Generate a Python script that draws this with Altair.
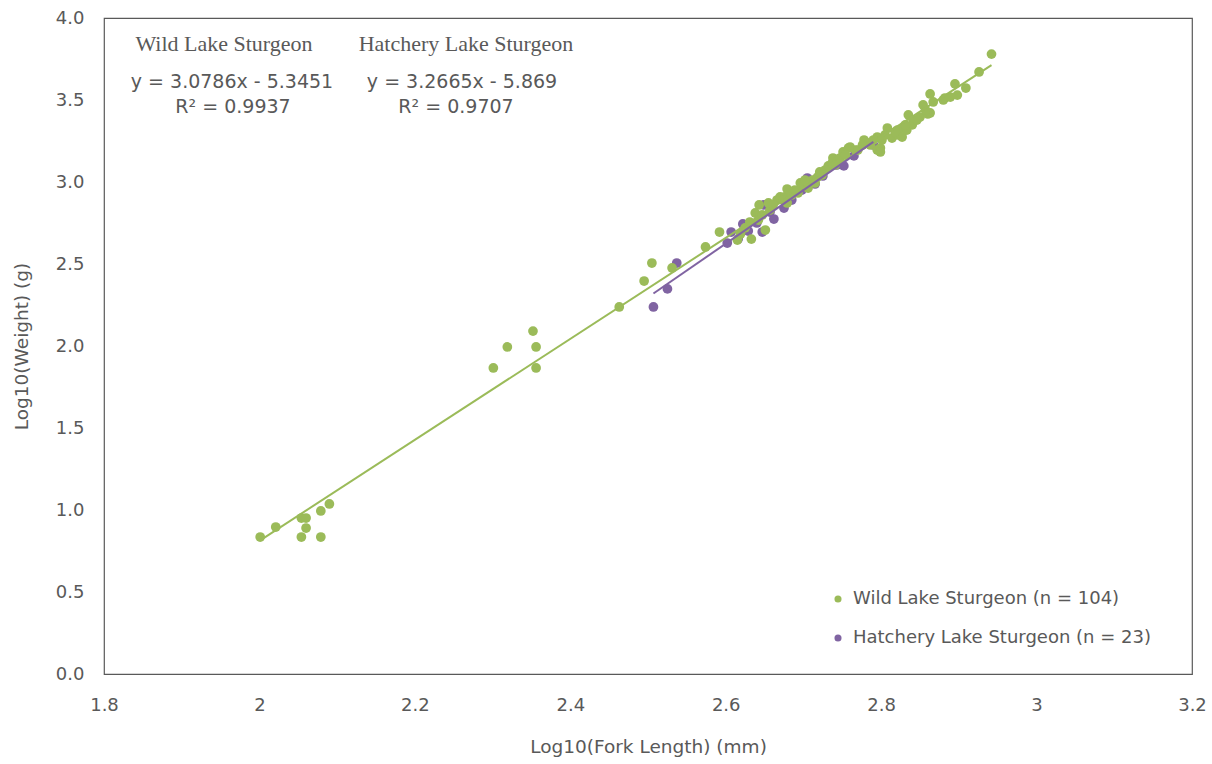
import altair as alt
import pandas as pd
import numpy as np

WILD = "Wild Lake Sturgeon (n = 104)"
HATCH = "Hatchery Lake Sturgeon (n = 23)"

wild_x = [
    2.001, 2.021, 2.054, 2.060, 2.060, 2.054, 2.079, 2.090, 2.079,
    2.301, 2.319, 2.352, 2.356, 2.356, 2.463, 2.495, 2.505, 2.531,
    2.574, 2.592, 2.615, 2.625, 2.631, 2.633, 2.638, 2.642, 2.643, 2.651,
    2.655, 2.657, 2.666, 2.670, 2.676, 2.679, 2.679, 2.685, 2.693, 2.696,
    2.698, 2.706, 2.711, 2.712, 2.718, 2.721, 2.728, 2.732, 2.737, 2.738,
    2.745, 2.751, 2.758, 2.760, 2.767, 2.782, 2.778, 2.786, 2.795, 2.795,
    2.799, 2.799, 2.801, 2.808, 2.814, 2.821, 2.822, 2.827, 2.828, 2.833,
    2.835, 2.840, 2.841, 2.850, 2.854, 2.860, 2.863, 2.863, 2.867, 2.880,
    2.882, 2.889, 2.895, 2.898, 2.909, 2.926, 2.942,
    2.619, 2.647, 2.661, 2.674, 2.689, 2.702, 2.715, 2.724, 2.741, 2.747,
    2.754, 2.770, 2.776, 2.790, 2.805, 2.818, 2.831, 2.846, 2.857,
]
wild_y = [
    0.835, 0.896, 0.951, 0.951, 0.890, 0.835, 0.994, 1.037, 0.835,
    1.866, 1.994, 2.091, 1.994, 1.866, 2.238, 2.396, 2.506, 2.476,
    2.604, 2.695, 2.646, 2.720, 2.756, 2.652, 2.811, 2.768, 2.860, 2.707,
    2.872, 2.829, 2.890, 2.909, 2.909, 2.957, 2.872, 2.921, 2.933, 2.994,
    2.982, 2.963, 3.000, 3.012, 3.030, 3.061, 3.073, 3.098, 3.116, 3.146,
    3.134, 3.183, 3.207, 3.213, 3.195, 3.238, 3.256, 3.226, 3.274, 3.195,
    3.207, 3.183, 3.256, 3.329, 3.268, 3.317, 3.287, 3.274, 3.329, 3.317,
    3.409, 3.348, 3.378, 3.396, 3.470, 3.415, 3.537, 3.421, 3.488, 3.500,
    3.512, 3.518, 3.598, 3.530, 3.573, 3.671, 3.780,
    2.683, 2.799, 2.860, 2.890, 2.951, 3.012, 2.994, 3.043, 3.104, 3.146,
    3.165, 3.195, 3.226, 3.256, 3.287, 3.305, 3.348, 3.378, 3.439,
]

hatch_x = [
    2.507, 2.525, 2.537, 2.602, 2.607, 2.616, 2.622, 2.640, 2.647, 2.649,
    2.662, 2.675, 2.698, 2.705, 2.725, 2.743, 2.752, 2.765, 2.790,
    2.629, 2.657, 2.685, 2.715,
]
hatch_y = [
    2.238, 2.348, 2.506, 2.628, 2.695, 2.652, 2.744, 2.750, 2.695, 2.860,
    2.774, 2.841, 2.951, 3.024, 3.037, 3.104, 3.098, 3.159, 3.226,
    2.701, 2.817, 2.890, 2.988,
]

# Trendline coefficients as printed on the chart
wild_slope, wild_int = 3.0786, -5.3451
hatch_slope, hatch_int = 3.2665, -5.869

header_texts = ["Wild Lake Sturgeon", "Hatchery Lake Sturgeon"]
eq_texts = ["y = 3.0786x - 5.3451", "y = 3.2665x - 5.869"]
r2_texts = ["R² = 0.9937", "R² = 0.9707"]

GREEN = "#9BBB59"
PURPLE = "#8064A2"
GRAY = "#595959"

pts = pd.concat([
    pd.DataFrame({"x": wild_x, "y": wild_y, "group": WILD}),
    pd.DataFrame({"x": hatch_x, "y": hatch_y, "group": HATCH}),
], ignore_index=True)

wx = np.array([min(wild_x), max(wild_x)])
hx = np.array([min(hatch_x), max(hatch_x)])
wild_line = pd.DataFrame({"x": wx, "y": wild_slope * wx + wild_int})
hatch_line = pd.DataFrame({"x": hx, "y": hatch_slope * hx + hatch_int})

xscale = alt.Scale(domain=[1.8, 3.2], nice=False, zero=False)
yscale = alt.Scale(domain=[0, 4], nice=False, zero=False)

xaxis = alt.Axis(
    title="Log10(Fork Length) (mm)",
    values=[1.8, 2.0, 2.2, 2.4, 2.6, 2.8, 3.0, 3.2],
    labelExpr="format(datum.value, '~g')",
    labelPadding=22, titlePadding=23, labelFlush=False, labelOverlap=False,
)
yaxis = alt.Axis(
    title="Log10(Weight) (g)",
    values=[0, 0.5, 1.0, 1.5, 2.0, 2.5, 3.0, 3.5, 4.0],
    format=".1f",
    labelPadding=20, titlePadding=24, labelFlush=False, labelOverlap=False,
)

points = alt.Chart(pts).mark_circle(size=95, opacity=1).encode(
    x=alt.X("x:Q", scale=xscale, axis=xaxis),
    y=alt.Y("y:Q", scale=yscale, axis=yaxis),
    color=alt.Color(
        "group:N",
        scale=alt.Scale(domain=[WILD, HATCH], range=[GREEN, PURPLE]),
        legend=alt.Legend(
            title=None, orient="none", legendX=725, legendY=572,
            symbolType="circle", symbolSize=50, labelFontSize=18,
            labelFont="DejaVu Sans", labelColor=GRAY, rowPadding=21,
            labelOffset=6, padding=0, labelLimit=400,
        ),
    ),
    order=alt.Order("order:Q"),
).transform_calculate(order="datum.group == '%s' ? 1 : 0" % WILD)

l1 = alt.Chart(wild_line).mark_line(color=GREEN, strokeWidth=2).encode(
    x=alt.X("x:Q", scale=xscale), y=alt.Y("y:Q", scale=yscale))
l2 = alt.Chart(hatch_line).mark_line(color=PURPLE, strokeWidth=2).encode(
    x=alt.X("x:Q", scale=xscale), y=alt.Y("y:Q", scale=yscale))

hdr = pd.DataFrame({"t": header_texts, "px": [120, 362]})
eqs = pd.DataFrame({"t": eq_texts, "px": [128, 358]})
r2s = pd.DataFrame({"t": r2_texts, "px": [129, 352]})

t_hdr = alt.Chart(hdr).mark_text(font="Liberation Serif", fontSize=22, color=GRAY,
                                 align="center", baseline="middle").encode(
    x=alt.X("px:Q", scale=None), y=alt.value(26), text="t:N")
t_eq = alt.Chart(eqs).mark_text(font="DejaVu Sans", fontSize=19, color=GRAY,
                                align="center", baseline="middle").encode(
    x=alt.X("px:Q", scale=None), y=alt.value(64), text="t:N")
t_r2 = alt.Chart(r2s).mark_text(font="DejaVu Sans", fontSize=19, color=GRAY,
                                align="center", baseline="middle").encode(
    x=alt.X("px:Q", scale=None), y=alt.value(89), text="t:N")

chart = alt.layer(points, l1, l2, t_hdr, t_eq, t_r2).resolve_scale(
    x="shared", y="shared"
).properties(
    width=1088, height=656,
    autosize=alt.AutoSizeParams(type="none"),
    padding={"left": 104, "top": 18, "right": 20, "bottom": 90},
    background="white",
).configure_view(
    stroke=GRAY, strokeWidth=1.2,
).configure_axis(
    grid=False, ticks=False, tickSize=0, domain=False,
    labelFont="DejaVu Sans", labelFontSize=18, labelColor=GRAY,
    titleFont="DejaVu Sans", titleFontSize=18.5, titleColor=GRAY,
    titleFontWeight="normal",
)

chart.save("out.html", embed_options={"renderer": "svg", "actions": False})
